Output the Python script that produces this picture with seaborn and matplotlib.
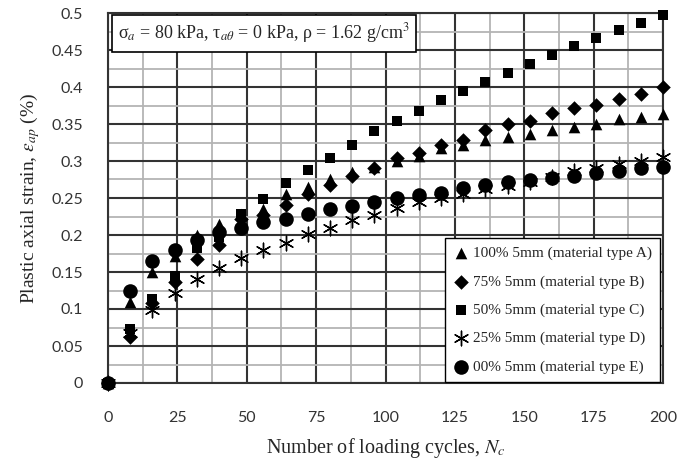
import numpy as np
import pandas as pd
import matplotlib
matplotlib.use("Agg")
import matplotlib.pyplot as plt
import seaborn as sns
from matplotlib.ticker import MultipleLocator

cycles = [0, 8, 16, 24, 32, 40, 48, 56, 64, 72, 80, 88, 96, 104, 112, 120,
          128, 136, 144, 152, 160, 168, 176, 184, 192, 200]

strain_A = [0, 0.110, 0.150, 0.172, 0.200, 0.215, 0.228, 0.235, 0.255, 0.265,
            0.275, 0.285, 0.292, 0.300, 0.307, 0.318, 0.322, 0.328, 0.332,
            0.337, 0.342, 0.346, 0.350, 0.357, 0.360, 0.364]
strain_B = [0, 0.062, 0.108, 0.137, 0.168, 0.186, 0.222, 0.227, 0.241, 0.256,
            0.268, 0.280, 0.290, 0.304, 0.311, 0.322, 0.329, 0.342, 0.350,
            0.354, 0.365, 0.372, 0.376, 0.384, 0.391, 0.400]
strain_C = [0, 0.073, 0.113, 0.145, 0.183, 0.197, 0.229, 0.248, 0.270, 0.288,
            0.304, 0.322, 0.340, 0.354, 0.367, 0.382, 0.394, 0.407, 0.419,
            0.431, 0.443, 0.456, 0.466, 0.477, 0.486, 0.497]
strain_D = [0, 0.068, 0.099, 0.122, 0.140, 0.156, 0.169, 0.180, 0.189, 0.201,
            0.210, 0.220, 0.227, 0.236, 0.245, 0.250, 0.255, 0.262, 0.266,
            0.272, 0.278, 0.286, 0.291, 0.296, 0.300, 0.305]
strain_E = [0, 0.124, 0.165, 0.180, 0.193, 0.204, 0.210, 0.218, 0.222, 0.228,
            0.235, 0.239, 0.245, 0.250, 0.254, 0.257, 0.263, 0.267, 0.271,
            0.274, 0.277, 0.280, 0.284, 0.287, 0.290, 0.292]

labels = ["100% 5mm (material type A)", "75% 5mm (material type B)",
          "50% 5mm (material type C)", "25% 5mm (material type D)",
          "00% 5mm (material type E)"]
x_ticks = [0, 25, 50, 75, 100, 125, 150, 175, 200]
y_ticks = [0, 0.05, 0.1, 0.15, 0.2, 0.25, 0.3, 0.35, 0.4, 0.45, 0.5]
y_tick_labels = ["0", "0.05", "0.1", "0.15", "0.2", "0.25", "0.3", "0.35",
                 "0.4", "0.45", "0.5"]

series = [strain_A, strain_B, strain_C, strain_D, strain_E]
markers = ["^", "D", "s", (6, 2, 0), "o"]
sizes = [70, 55, 55, 110, 110]

sns.set_style("white")
plt.rcParams["mathtext.fontset"] = "stix"
serif = ["Liberation Serif", "DejaVu Serif"]

fig = plt.figure(figsize=(6.91, 4.65), dpi=100)
ax = fig.add_axes([108 / 691, 1 - 383 / 465, 555 / 691, 370 / 465])

ax.xaxis.set_minor_locator(MultipleLocator(12.5))
ax.yaxis.set_minor_locator(MultipleLocator(0.025))
ax.grid(which="minor", color="#b4b4b4", linewidth=1.3, zorder=0)
ax.grid(which="major", color="#333333", linewidth=1.5, zorder=0)
ax.set_axisbelow(True)

for vals, lab, mk, sz in zip(series, labels, markers, sizes):
    df = pd.DataFrame({"N": cycles, "eps": vals})
    lw = 1.0 if isinstance(mk, tuple) else 0
    sns.scatterplot(data=df, x="N", y="eps", ax=ax, marker=mk, s=sz,
                    color="black", edgecolor="black", linewidth=lw,
                    label=lab, clip_on=False, zorder=3)

ax.set_xlim(0, 200)
ax.set_ylim(0, 0.5)
ax.set_xticks(x_ticks)
ax.set_yticks(y_ticks)
ax.set_yticklabels(y_tick_labels)
ax.tick_params(which="major", direction="out", length=9, width=1.3,
               color="#333333", labelsize=11.5, labelcolor="#333333")
ax.tick_params(axis="x", which="major", pad=11)
ax.tick_params(axis="y", which="major", pad=9)
ax.tick_params(which="minor", length=0)
for lbl in ax.get_xticklabels() + ax.get_yticklabels():
    lbl.set_family(["Lato", "DejaVu Sans"])
for sp in ax.spines.values():
    sp.set_color("#333333")
    sp.set_linewidth(1.5)

ax.set_xlabel("Number of loading cycles, $N_c$", family=serif, fontsize=14.5,
              labelpad=8)
ax.set_ylabel("Plastic axial strain, $\\varepsilon_{ap}$ (%)", family=serif,
              fontsize=14, labelpad=7)

ax.text(0.018, 0.945, "σ$_a$ = 80 kPa, τ$_{a\\theta}$ = 0 kPa, ρ = 1.62 g/cm$^3$",
        transform=ax.transAxes, family=serif, fontsize=13, va="center",
        ha="left", zorder=5,
        bbox=dict(boxstyle="square,pad=0.35", facecolor="white",
                  edgecolor="black", linewidth=1.2))

leg = ax.legend(loc="lower right", bbox_to_anchor=(0.995, 0.002),
                prop={"family": serif, "size": 11}, frameon=True,
                fancybox=False, edgecolor="black", framealpha=1,
                handletextpad=0.3, borderpad=0.55, labelspacing=0.95,
                handlelength=1.0, borderaxespad=0.0)
leg.get_frame().set_linewidth(1.0)
leg.set_zorder(6)

fig.savefig("out.png", dpi=100)
